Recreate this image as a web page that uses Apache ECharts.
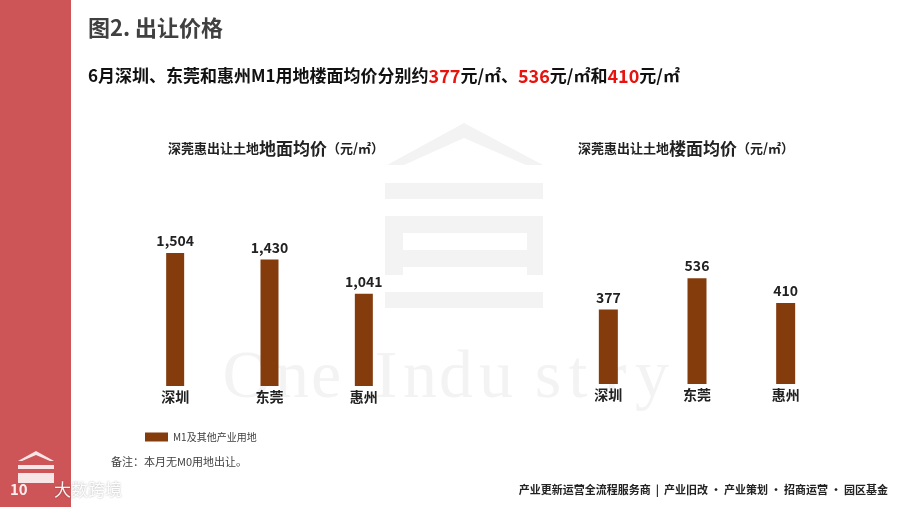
<!DOCTYPE html>
<html style="height: 100%">
<head>
    <meta charset="UTF-8">
    <script type="text/javascript" src="https://cdn.jsdelivr.net/npm/echarts@6.0.0/dist/echarts.min.js"></script>
</head>
<body style="height: 100%; margin: 0; background: #fff">
    <div id="container" style="width: 900px; height: 507px;"></div>
    <script type="text/javascript">
        // 城市 / 地面均价 / 楼面均价 (元/㎡)
        var cities = ['深圳', '东莞', '惠州'];
        var landPrice = [1504, 1430, 1041];
        var floorPrice = [377, 536, 410];
        var seriesName = 'M1及其他产业用地';

        var FONT = '"Microsoft YaHei", "Noto Sans CJK SC", sans-serif';
        var BAR = '#843c0c';

        // 水印 OneIndustry 字母位置
        var wmLetters = ['O', 'n', 'e', 'I', 'n', 'd', 'u', 's', 't', 'r', 'y'];
        var wmX = [247, 292, 326, 386, 420, 456, 496, 548, 578, 615, 652];

        var dom = document.getElementById('container');
        var myChart = echarts.init(dom);

        var wmFill = '#f3f3f3';
        var graphics = [
            // 左侧红条
            {type: 'rect', shape: {x: 0, y: 0, width: 71, height: 507}, style: {fill: '#cd5558'}, z: -10},
            // 中间水印 logo
            {type: 'polygon', shape: {points: [[387, 165], [464, 123], [543, 165], [526, 165], [464, 138], [404, 165]]}, style: {fill: wmFill}, z: -5},
            {type: 'rect', shape: {x: 385, y: 183, width: 158, height: 16}, style: {fill: wmFill}, z: -5},
            {type: 'rect', shape: {x: 385, y: 216, width: 158, height: 17}, style: {fill: wmFill}, z: -5},
            {type: 'rect', shape: {x: 385, y: 233, width: 18, height: 42}, style: {fill: wmFill}, z: -5},
            {type: 'rect', shape: {x: 527, y: 233, width: 16, height: 42}, style: {fill: wmFill}, z: -5},
            {type: 'rect', shape: {x: 403, y: 250, width: 124, height: 17}, style: {fill: wmFill}, z: -5},
            {type: 'rect', shape: {x: 385, y: 292, width: 158, height: 16}, style: {fill: wmFill}, z: -5},
            // 标题
            {type: 'text', left: 88, top: 17, style: {text: '图2. 出让价格', font: 'bold 22px ' + FONT, fill: '#404040'}},
            {type: 'text', left: 88, top: 67, style: {
                text: '{k|6月深圳、东莞和惠州M1用地楼面均价分别约}{r|377}{k|元/㎡、}{r|536}{k|元/㎡和}{r|410}{k|元/㎡}',
                rich: {
                    k: {fontFamily: FONT, fontSize: 17, fontWeight: 'bold', fill: '#111'},
                    r: {fontFamily: FONT, fontSize: 18, fontWeight: 'bold', fill: '#e8130f'}
                }
            }},
            // 小标题
            {type: 'text', left: 168, top: 140, style: {
                text: '{a|深莞惠出让土地}{b|地面均价}{a|（元/㎡）}',
                rich: {
                    a: {fontFamily: FONT, fontSize: 13, fontWeight: 'bold', fill: '#222'},
                    b: {fontFamily: FONT, fontSize: 17, fontWeight: 'bold', fill: '#222'}
                }
            }},
            {type: 'text', left: 578, top: 140, style: {
                text: '{a|深莞惠出让土地}{b|楼面均价}{a|（元/㎡）}',
                rich: {
                    a: {fontFamily: FONT, fontSize: 13, fontWeight: 'bold', fill: '#222'},
                    b: {fontFamily: FONT, fontSize: 17, fontWeight: 'bold', fill: '#222'}
                }
            }},
            // 备注
            {type: 'text', left: 111, top: 456, style: {text: '备注：本月无M0用地出让。', font: '11px ' + FONT, fill: '#404040'}},
            // 页脚
            {type: 'text', right: 12, top: 484, style: {
                text: '产业更新运营全流程服务商  |  产业旧改 • 产业策划 • 招商运营 • 园区基金',
                font: 'bold 11px ' + FONT, fill: '#222'
            }},
            // 左下角水印
            {type: 'polygon', shape: {points: [[18, 461], [36, 451], [54, 461], [50, 461], [36, 455], [22, 461]]}, style: {fill: 'rgba(255,255,255,0.85)'}},
            {type: 'rect', shape: {x: 18, y: 465, width: 36, height: 4}, style: {fill: 'rgba(255,255,255,0.85)'}},
            {type: 'rect', shape: {x: 18, y: 473, width: 36, height: 10}, style: {fill: 'rgba(255,255,255,0.85)'}},
            {type: 'text', left: 10, top: 482, style: {text: '10', font: 'bold 15px ' + FONT, fill: 'rgba(255,255,255,0.9)'}},
            {type: 'text', left: 54, top: 481, style: {
                text: '大数跨境', font: '17px ' + FONT, fill: 'rgba(255,255,255,0.95)',
                textShadowColor: 'rgba(0,0,0,0.35)', textShadowBlur: 2
            }}
        ];
        for (var i = 0; i < wmLetters.length; i++) {
            graphics.push({
                type: 'text', x: wmX[i], y: 413, z: -5,
                style: {text: wmLetters[i], font: '68px "Liberation Serif", "DejaVu Serif", serif', fill: '#f3f3f3', textAlign: 'center', textVerticalAlign: 'bottom'}
            });
        }

        var xAxisCommon = {
            type: 'category',
            data: cities,
            axisLine: {show: false},
            axisTick: {show: false},
            axisLabel: {margin: 4, fontFamily: FONT, fontSize: 14, fontWeight: 'bold', color: '#222'}
        };
        var yAxisCommon = {type: 'value', min: 0, show: false, splitLine: {show: false}};
        var labelCommon = {
            show: true, position: 'top', distance: 5,
            fontFamily: FONT, fontSize: 14, fontWeight: 'bold', color: '#222'
        };

        option = {
            animation: false,
            backgroundColor: 'transparent',
            graphic: graphics,
            legend: {
                data: [{name: seriesName, icon: 'rect'}],
                left: 140, top: 427,
                itemWidth: 23, itemHeight: 9,
                itemGap: 4,
                textStyle: {fontFamily: FONT, fontSize: 10, color: '#404040'}
            },
            grid: [
                {left: 128, right: 489, top: 209, bottom: 121},
                {left: 564, right: 70, top: 226, bottom: 123}
            ],
            xAxis: [
                Object.assign({gridIndex: 0}, xAxisCommon),
                Object.assign({gridIndex: 1}, xAxisCommon)
            ],
            yAxis: [
                Object.assign({gridIndex: 0, max: 2000}, yAxisCommon),
                Object.assign({gridIndex: 1, max: 800}, yAxisCommon)
            ],
            series: [
                {
                    name: seriesName, type: 'bar', xAxisIndex: 0, yAxisIndex: 0,
                    data: landPrice, barWidth: 18,
                    itemStyle: {color: BAR},
                    label: Object.assign({formatter: function (p) { return p.value.toLocaleString('en-US'); }}, labelCommon)
                },
                {
                    name: seriesName, type: 'bar', xAxisIndex: 1, yAxisIndex: 1,
                    data: floorPrice, barWidth: 19,
                    itemStyle: {color: BAR},
                    label: labelCommon
                }
            ]
        };
        if (option && typeof option === "object") {
            myChart.setOption(option, true);
        }
        window.onresize = function () {
            myChart.resize();
        }
    </script>
</body>
</html>
